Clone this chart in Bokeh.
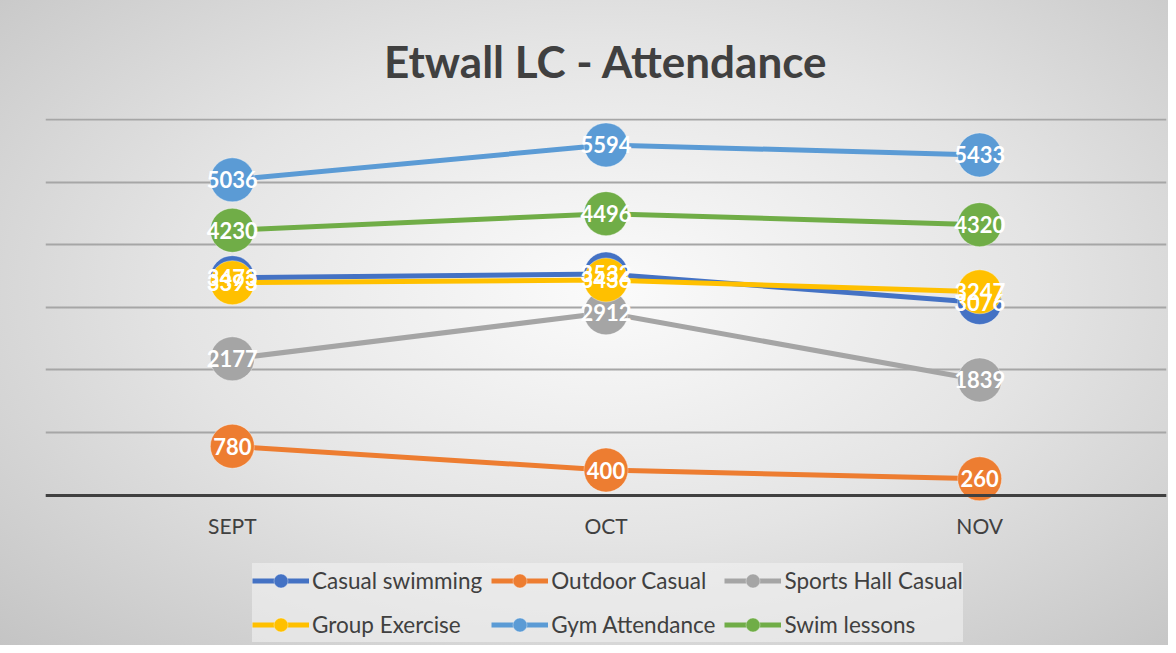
from bokeh.plotting import figure
from bokeh.models import ColumnDataSource, Legend, LegendItem, FactorRange, Range1d
from bokeh.embed import file_html
from bokeh.resources import INLINE
from bokeh.core.properties import value

months = ["SEPT", "OCT", "NOV"]
series_names = ["Casual swimming", "Outdoor Casual", "Sports Hall Casual",
                "Group Exercise", "Gym Attendance", "Swim lessons"]
casual_swimming = [3473, 3532, 3076]
outdoor_casual = [780, 400, 260]
sports_hall_casual = [2177, 2912, 1839]
group_exercise = [3393, 3436, 3247]
gym_attendance = [5036, 5594, 5433]
swim_lessons = [4230, 4496, 4320]
colors = ["#4472C4", "#ED7D31", "#A5A5A5", "#FFC000", "#5B9BD5", "#70AD47"]
grid_values = [0, 1000, 2000, 3000, 4000, 5000, 6000]

all_values = [casual_swimming, outdoor_casual, sports_hall_casual,
              group_exercise, gym_attendance, swim_lessons]

FONT = "Lato"
TEXT_COLOR = "#404040"

# frame spans from just above the 6000 gridline down to the figure's bottom edge;
# the value axis (hidden) keeps 0 at the baseline
p = figure(width=1168, height=645, x_range=FactorRange(*months, range_padding=0),
           y_range=Range1d(-2403, 6016), output_backend="svg", toolbar_location=None,
           min_border_left=45, min_border_right=2, min_border_top=116,
           min_border_bottom=0)

p.background_fill_alpha = 0
p.border_fill_alpha = 0
p.outline_line_color = None
p.styles = {"background": "radial-gradient(ellipse at 52% 45%, #fbfbfb 0%, #e4e4e4 50%, #c4c4c4 100%)"}

p.title.text = "Etwall LC - Attendance"
p.title.align = "center"
p.title.text_font = FONT
p.title.text_font_size = "44px"
p.title.text_font_style = "bold"
p.title.text_color = TEXT_COLOR
p.title.standoff = 64

p.yaxis.visible = False
p.ygrid.ticker = grid_values
p.ygrid.grid_line_color = "#a6a6a6"
p.ygrid.grid_line_width = 2
p.xgrid.visible = False

p.xaxis.fixed_location = 0
p.xaxis.axis_line_color = "#404040"
p.xaxis.axis_line_width = 3
p.xaxis.major_tick_line_color = None
p.xaxis.minor_tick_line_color = None
p.xaxis.major_label_standoff = 12
p.xaxis.major_label_text_font = FONT
p.xaxis.major_label_text_font_size = "21px"
p.xaxis.major_label_text_color = TEXT_COLOR

sources = []
items = []
for name, vals, col in zip(series_names, all_values, colors):
    src = ColumnDataSource(dict(x=months, y=vals, label=[str(v) for v in vals]))
    sources.append(src)
    ln = p.line("x", "y", source=src, line_color=col, line_width=5)
    sc = p.scatter("x", "y", source=src, size=44, fill_color=col,
                   line_color="white", line_alpha=0.35, line_width=1)
    items.append(LegendItem(label=name, renderers=[ln, sc]))

for src in sources:
    p.text("x", "y", text="label", source=src, text_color="white",
           text_font=value(FONT), text_font_style="bold", text_font_size="22px",
           text_align="center", text_baseline="middle")

legend = Legend(items=items, ncols=3, orientation="horizontal",
                location=(207, 3),
                label_text_font=FONT, label_text_font_size="22.5px",
                label_text_color=TEXT_COLOR,
                glyph_width=57, glyph_height=35, label_standoff=3,
                spacing=9, padding=4, margin=0,
                background_fill_color="#f2f2f2", background_fill_alpha=0.6,
                border_line_color=None)
p.add_layout(legend, "center")

open("out.html", "w").write(file_html(p, INLINE))
